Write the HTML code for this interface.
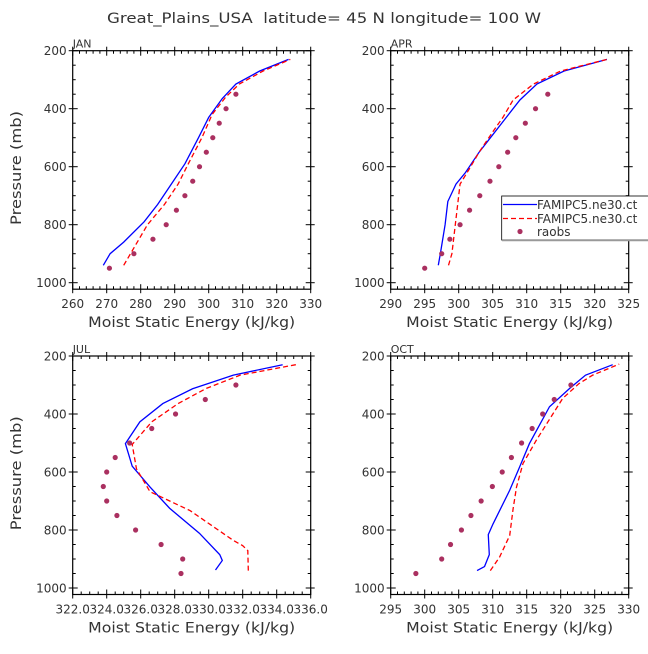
<!DOCTYPE html>
<html><head><meta charset="utf-8"><style>
body{margin:0;background:#fff;}
svg text{font-family:"DejaVu Sans","Liberation Sans",sans-serif;fill:#333;}
</style></head><body>
<svg id="chart" width="648" height="649" xmlns="http://www.w3.org/2000/svg">
<text x="324" y="23" font-size="14" text-anchor="middle" textLength="434" lengthAdjust="spacingAndGlyphs" xml:space="preserve" style="white-space:pre">Great_Plains_USA  latitude= 45 N longitude= 100 W</text>
</svg>
<script>
const pressureTicks=[200,400,600,800,1000];
const janBlueE=[269,271,275,281,285,289,293,297,300,304,308,315,323.5];
const janBlueP=[940,900,860,790,730,660,590,500,430,365,315,270,230];
const janRedE=[275,278,282,287,291,294,298,301,305,309,316,324];
const janRedP=[940,880,800,730,660,590,500,420,360,315,270,230];
const janObsE=[270.8,278,283.6,287.5,290.5,293,295.3,297.3,299.3,301.2,303.1,305.1,308];
const aprBlueE=[297,297.3,298,298.4,299.6,301,303,305,307,309,311.5,315.5,321.8];
const aprBlueP=[940,900,800,720,660,620,550,490,430,370,315,270,230];
const aprRedE=[298.5,299,299.5,300,300.2,301.5,303,305,306.5,308,311,315,321.8];
const aprRedP=[940,900,800,700,660,610,550,480,430,370,315,270,230];
const aprObsE=[295,297.5,298.7,300.2,301.6,303.1,304.6,305.9,307.2,308.4,309.8,311.3,313.1];
const julBlueE=[330.4,330.8,330.65,329.45,327.7,326.55,325.5,325.1,325.95,327.3,329.05,331.45,334.35];
const julBlueP=[938,905,885,811,725,652,580,502,427,364,313,266,230];
const julRedE=[332.33,332.3,332.0,331.45,328.9,326.55,325.75,325.5,326.65,328.2,329.85,331.85,335.3];
const julRedP=[940,871,854,836,733,668,589,505,427,364,312,266,228];
const julObsE=[328.37,328.47,327.2,325.7,324.6,324.0,323.8,324.0,324.5,325.35,326.65,328.05,329.8,331.6];
const octBlueE=[307.7,308.8,309.5,309.35,310.05,312.5,313.95,315.4,318.35,321.3,323.65,327.65];
const octBlueP=[940,926,885,816,779,663,583,502,375,312,266,230];
const octRedE=[309.65,311.0,312.5,313.0,313.5,314.45,316.4,320.3,322.7,324.7,328.6];
const octRedP=[940,894,819,727,652,571,491,346,295,266,228];
const octObsE=[298.7,302.5,303.8,305.4,306.8,308.3,309.95,311.4,312.75,314.25,315.8,317.35,319.05,321.5];
const obsP13=[950,900,850,800,750,700,650,600,550,500,450,400,350];
const obsP14=[950,900,850,800,750,700,650,600,550,500,450,400,350,300];
const janTicks=[260,270,280,290,300,310,320,330];
const aprTicks=[290,295,300,305,310,315,320,325];
const julTicks=[322,324,326,328,330,332,334,336];
const julTickLabels=["322.0","324.0","326.0","328.0","330.0","332.0","334.0","336.0"];
const octTicks=[295,300,305,310,315,320,325,330];

const svg=document.getElementById('chart');
const NS='http://www.w3.org/2000/svg';
function mk(tag,attrs,parent){const e=document.createElementNS(NS,tag);for(const k in attrs)e.setAttribute(k,attrs[k]);(parent||svg).appendChild(e);return e;}

function panel(name,left,top,xTicks,xLabels,minorN,blueE,blueP,redE,redP,obsE,obsP,showYLabel){
  const W=238,bottom=top+238.5;
  const xmin=xTicks[0],xmax=xTicks[xTicks.length-1];
  const X=v=>left+(v-xmin)/(xmax-xmin)*W;
  const Y=p=>top+(p-200)/800*232;
  const g=mk('g',{});
  
  
  const r=mk('rect',{x:left,y:top,width:W,height:bottom-top,fill:'none',stroke:'#000','stroke-width':1.2},g);
  
  
  const t=mk('text',{x:left,y:top-3,'font-size':11},g);t.textContent=name.toUpperCase();
  
  
  for(let i=0;i<xTicks.length;i++){
    const x=X(xTicks[i]);
    mk('line',{x1:x,x2:x,y1:bottom+4,y2:bottom-5,stroke:'#000'},g);
    mk('line',{x1:x,x2:x,y1:top-4,y2:top+5,stroke:'#000'},g);
    const tl=mk('text',{x:x,y:bottom+19,'font-size':12,'text-anchor':'middle'},g);
    tl.textContent=xLabels[i];
    
    
    if(i<xTicks.length-1){for(let k=1;k<minorN;k++){const xm=X(xTicks[i]+(xTicks[i+1]-xTicks[i])*k/minorN);
      mk('line',{x1:xm,x2:xm,y1:bottom,y2:bottom-3,stroke:'#000'},g);
      mk('line',{x1:xm,x2:xm,y1:top,y2:top+3,stroke:'#000'},g);}}
  }
  for(let p=250;p<1000;p+=50){if(p%200==0)continue;const y=Y(p);
    mk('line',{x1:left,x2:left+3,y1:y,y2:y,stroke:'#000'},g);
    mk('line',{x1:left+W,x2:left+W-3,y1:y,y2:y,stroke:'#000'},g);}
  pressureTicks.forEach(p=>{const y=Y(p);
    mk('line',{x1:left-4,x2:left+5,y1:y,y2:y,stroke:'#000'},g);
    mk('line',{x1:left+W+4,x2:left+W-5,y1:y,y2:y,stroke:'#000'},g);
    const tl=mk('text',{x:left-6,y:y+4.5,'font-size':12,'text-anchor':'end'},g);tl.textContent=p;
    
    });
  const xl=mk('text',{x:left+W/2,y:bottom+38,'font-size':14,'text-anchor':'middle',textLength:207,lengthAdjust:'spacingAndGlyphs'},g);xl.textContent='Moist Static Energy (kJ/kg)';
  
  
  if(showYLabel){const yl=mk('text',{x:0,y:0,'font-size':14,'text-anchor':'middle',textLength:114,lengthAdjust:'spacingAndGlyphs',transform:`translate(21,${(top+bottom)/2-2}) rotate(-90)`},g);yl.textContent='Pressure (mb)';
    
    }
  const bl=mk('polyline',{points:blueE.map((e,i)=>X(e)+','+Y(blueP[i])).join(' '),fill:'none',stroke:'#0000ff','stroke-width':1.3},g);
  
  
  const rl=mk('polyline',{points:redE.map((e,i)=>X(e)+','+Y(redP[i])).join(' '),fill:'none',stroke:'#ff0000','stroke-width':1.3,'stroke-dasharray':'5,3'},g);
  
  
  obsE.forEach((e,i)=>{const c=mk('circle',{cx:X(e),cy:Y(obsP[i]),r:2.6,fill:'#aa3060'},g);
    
    });
}
panel('jan',72.7,50.7,janTicks,janTicks.map(String),5,janBlueE,janBlueP,janRedE,janRedP,janObsE,obsP13,true);
panel('apr',390.7,50.7,aprTicks,aprTicks.map(String),5,aprBlueE,aprBlueP,aprRedE,aprRedP,aprObsE,obsP13,false);
panel('jul',72.7,356,julTicks,julTickLabels,4,julBlueE,julBlueP,julRedE,julRedP,julObsE,obsP14,true);
panel('oct',390.7,356,octTicks,octTicks.map(String),5,octBlueE,octBlueP,octRedE,octRedP,octObsE,obsP14,false);

const lg=mk('g',{});


mk('rect',{x:501.7,y:196,width:150,height:44,fill:'#fff',stroke:'#000','stroke-width':0.8},lg);
mk('line',{x1:502,x2:648,y1:240.5,y2:240.5,stroke:'#999','stroke-width':1.5},lg);
const e1=mk('line',{x1:503,x2:537,y1:204.5,y2:204.5,stroke:'#0000ff','stroke-width':1.3},lg);


const e2=mk('line',{x1:503,x2:537,y1:218.5,y2:218.5,stroke:'#ff0000','stroke-width':1.3,'stroke-dasharray':'5,3'},lg);


const e3=mk('circle',{cx:520,cy:231.5,r:2.6,fill:'#aa3060'},lg);


[['FAMIPC5.ne30.ct',209],['FAMIPC5.ne30.ct',223],['raobs',236]].forEach(([s,y])=>{const t=mk('text',{x:537,y:y,'font-size':12},lg);t.textContent=s;
  
  });
</script>
</body></html>
